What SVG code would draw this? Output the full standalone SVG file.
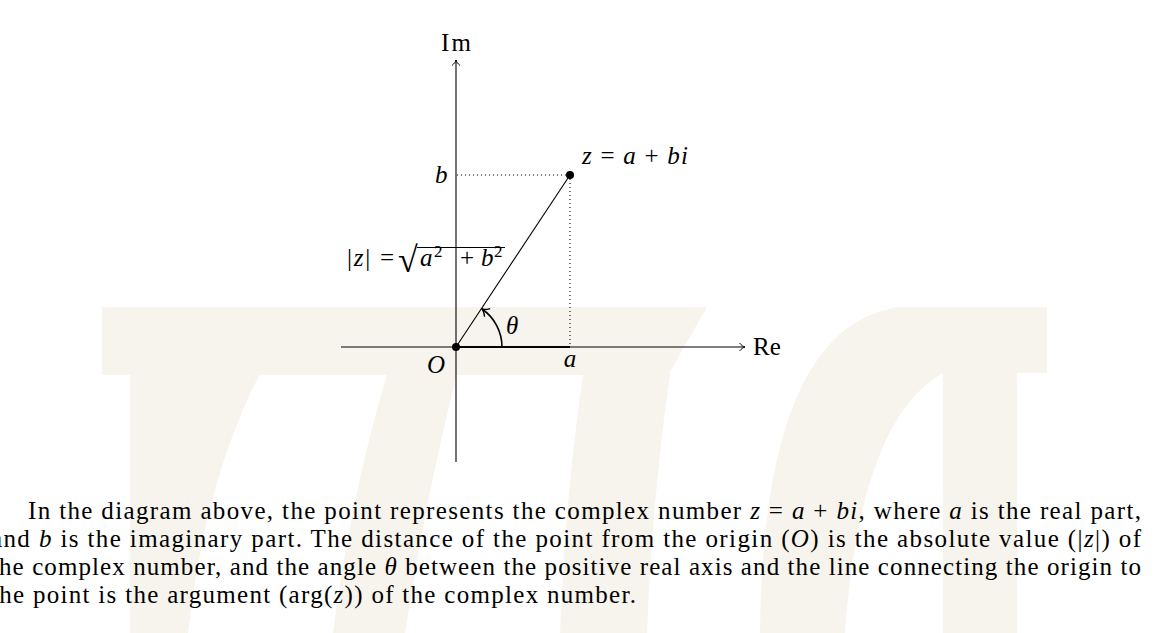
<svg xmlns="http://www.w3.org/2000/svg" width="1155" height="633" viewBox="0 0 1155 633">
<style>
.wm{fill:#f7f4ed;stroke:none}
.ax{stroke:#000;stroke-width:1.1;fill:none}
.dot{stroke:#000;stroke-width:1.1;stroke-dasharray:1 3;fill:none}
.lbl{font-family:"Liberation Serif","Times New Roman",serif;font-size:25px;fill:#000}
.it{font-style:italic}
.sup{font-size:17px}
.rad{font-size:36px}
.par{font-family:"Liberation Serif","Times New Roman",serif;font-size:25px;fill:#000}
</style>
<defs>
<marker id="to" viewBox="-7 -5 8 10" refX="0" refY="0" markerWidth="8" markerHeight="10" orient="auto" markerUnits="userSpaceOnUse">
<path d="M-5.5,-4 C-3.5,-1.5 -1.5,-0.4 0,0 C-1.5,0.4 -3.5,1.5 -5.5,4" fill="none" stroke="#000" stroke-width="1"/>
</marker>
<marker id="to2" viewBox="-8 -6 9 12" refX="0" refY="0" markerWidth="9" markerHeight="12" orient="auto" markerUnits="userSpaceOnUse">
<path d="M-6.5,-5 C-4,-2 -2,-0.5 0,0 C-2,0.5 -4,2 -6.5,5" fill="none" stroke="#000" stroke-width="1.4"/>
</marker>
</defs>
<rect width="1155" height="633" fill="#fff"/>
<g id="watermark">
<path class="wm" d="M102,307 H707 L668,375 H102 Z"/>
<path class="wm" d="M130,374 V633 H188 Q205,480 260,374 Z"/>
<path class="wm" d="M387,374 H457 Q425,500 405,633 H333 Q350,500 387,374 Z"/>
<path class="wm" d="M583,374 H670 Q652,500 647,633 H560 Q565,500 583,374 Z"/>
<path class="wm" d="M1047,307 V373 H1017 V633 H943 V373 Q860,420 845,633 H760 C762,450 800,320 900,307 Z"/>
</g>
<g id="connectors">
<line id="re-axis" class="ax" x1="341" y1="347" x2="745" y2="347" marker-end="url(#to)"/>
<line id="im-axis" class="ax" x1="456" y1="462" x2="456" y2="60" marker-end="url(#to)"/>
<line id="modulus" class="ax" x1="456" y1="347" x2="570" y2="175"/>
<line id="real-part" x1="456" y1="347" x2="570" y2="347" stroke="#000" stroke-width="2"/>
<line id="dot-h" class="dot" x1="457" y1="175" x2="570" y2="175"/>
<line id="dot-v" class="dot" x1="570" y1="175" x2="570" y2="347"/>
<path id="angle" d="M502,347 A46,46 0 0 0 482,309" fill="none" stroke="#000" stroke-width="1.6" marker-end="url(#to2)"/>
</g>
<g id="node-origin">
<circle cx="456" cy="347" r="4" fill="#000"/>
<text class="lbl it" x="427" y="373">O</text>
</g>
<g id="node-z">
<circle cx="570" cy="175" r="4" fill="#000"/>
<text class="lbl" x="582" y="164" textLength="106" lengthAdjust="spacing"><tspan class="it">z</tspan> = <tspan class="it">a</tspan> + <tspan class="it">bi</tspan></text>
</g>
<g id="label-im"><text class="lbl" x="441" y="51" textLength="30" lengthAdjust="spacing">Im</text></g>
<g id="label-re"><text class="lbl" x="753" y="355">Re</text></g>
<g id="label-b"><text class="lbl it" x="435" y="183">b</text></g>
<g id="label-a"><text class="lbl it" x="570" y="367" text-anchor="middle">a</text></g>
<g id="label-theta"><text class="lbl it" x="506" y="334">θ</text></g>
<g id="label-modulus">
<text class="lbl" x="347" y="266" textLength="47" lengthAdjust="spacing">|<tspan class="it">z</tspan>| =</text>
<text class="lbl rad" x="398" y="272">√</text>
<line x1="417" y1="247.5" x2="505" y2="247.5" stroke="#000" stroke-width="1"/>
<text class="lbl" y="266"><tspan class="it" x="420">a</tspan><tspan class="sup" x="434" y="257">2</tspan><tspan x="460" y="266">+</tspan><tspan class="it" x="481">b</tspan><tspan class="sup" x="494" y="257">2</tspan></text>
</g>
<g id="paragraph">
<text class="par" x="28" y="519" textLength="1113" lengthAdjust="spacing">In the diagram above, the point represents the complex number <tspan class="it">z</tspan> = <tspan class="it">a</tspan> + <tspan class="it">bi</tspan>, where <tspan class="it">a</tspan> is the real part,</text>
<text class="par" x="-9" y="547" textLength="1150" lengthAdjust="spacing">and <tspan class="it">b</tspan> is the imaginary part. The distance of the point from the origin (<tspan class="it">O</tspan>) is the absolute value (|<tspan class="it">z</tspan>|) of</text>
<text class="par" x="-9" y="575" textLength="1150" lengthAdjust="spacing">the complex number, and the angle <tspan class="it">θ</tspan> between the positive real axis and the line connecting the origin to</text>
<text class="par" x="-9" y="603" textLength="645" lengthAdjust="spacing">the point is the argument (arg(<tspan class="it">z</tspan>)) of the complex number.</text>
</g>
</svg>
